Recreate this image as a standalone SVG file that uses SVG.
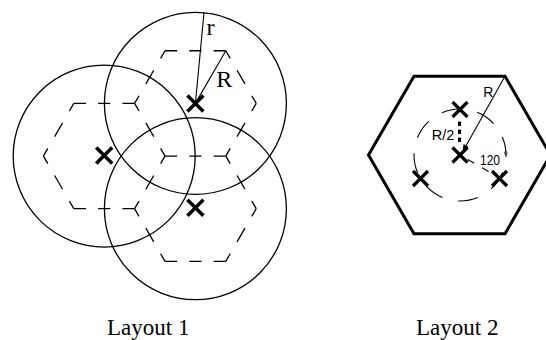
<svg xmlns="http://www.w3.org/2000/svg" width="546" height="340" viewBox="0 0 546 340">
<defs>
<style>
.bg{fill:#fff}
.cell{fill:none;stroke:#000;stroke-width:1.3}
.hh{fill:none;stroke:#000;stroke-width:1.3;stroke-dasharray:12.16 12.16}
.hs{fill:none;stroke:#000;stroke-width:1.3;stroke-dasharray:8.8 13.7 15.8 13.7 8.8 100}
.ln{fill:none;stroke:#000;stroke-width:1.1}
.x{fill:none;stroke:#000;stroke-width:3.5}
.x2{fill:none;stroke:#000;stroke-width:3.2}
.serif{font-family:"Liberation Serif","Times New Roman",serif;fill:#000}
.sans{font-family:"Liberation Sans",Arial,sans-serif;fill:#000}
</style>
<marker id="arr" markerWidth="8" markerHeight="6" refX="7" refY="3" orient="auto" markerUnits="userSpaceOnUse">
<path d="M0,0 L8,3 L0,6 z" fill="#000"/>
</marker>
</defs>
<rect class="bg" x="0" y="0" width="546" height="340"/>

<g id="layout1">
  <g id="hexagons1">
    <path class="hh" d="M165,50.75 L225.8,50.75 M165,156.05 L225.8,156.05 M73.8,103.4 L134.6,103.4 M73.8,208.7 L134.6,208.7 M165,261.35 L225.8,261.35"/>
    <path class="hs" d="M225.8,50.75 L256.2,103.4 M256.2,103.4 L225.8,156.05 M165,50.75 L134.6,103.4 M134.6,103.4 L165,156.05 M73.8,103.4 L43.4,156.05 M43.4,156.05 L73.8,208.7 M165,156.05 L134.6,208.7 M225.8,156.05 L256.2,208.7 M256.2,208.7 L225.8,261.35 M134.6,208.7 L165,261.35"/>
  </g>
  <g id="circles1">
    <circle class="cell" cx="195.4" cy="103.4" r="91"/>
    <circle class="cell" cx="104.2" cy="156.05" r="91"/>
    <circle class="cell" cx="195.4" cy="208.7" r="91"/>
  </g>
  <g id="radii1">
    <line class="ln" x1="195.4" y1="103.4" x2="204" y2="12.8"/>
    <line class="ln" x1="195.4" y1="103.4" x2="225.8" y2="50.75"/>
    <text class="serif" x="206.5" y="35" font-size="24">r</text>
    <text class="serif" x="216.3" y="87" font-size="24">R</text>
  </g>
  <g id="bs1">
    <path class="x" d="M187.4,95.4 L203.4,111.4 M203.4,95.4 L187.4,111.4"/>
    <path class="x" d="M96.2,147.6 L112.2,163.6 M112.2,147.6 L96.2,163.6"/>
    <path class="x" d="M187.4,199.7 L203.4,215.7 M203.4,199.7 L187.4,215.7"/>
  </g>
  <text class="serif" x="107" y="335" font-size="23">Layout 1</text>
</g>

<g id="layout2">
  <polygon id="cellhex2" points="550.5,155 505,76.2 414,76.2 368.5,155 414,233.8 505,233.8" fill="none" stroke="#000" stroke-width="3" stroke-linejoin="miter"/>
  <circle id="ring2" cx="460" cy="155" r="46" fill="none" stroke="#000" stroke-width="1.1" stroke-dasharray="20 16" stroke-dashoffset="18"/>
  <line id="angleline" class="ln" x1="467.8" y1="159.5" x2="488.6" y2="171.5" stroke-dasharray="7.5 9"/>
  <line id="halfR" x1="459.5" y1="121.5" x2="459.5" y2="142" stroke="#000" stroke-width="3" stroke-dasharray="4.5 3.5"/>
  <line id="Rline2" class="ln" x1="505" y1="76.2" x2="462.8" y2="151.5" marker-end="url(#arr)"/>
  <g id="bs2">
    <path class="x2" d="M452.5,102 L467.5,117 M467.5,102 L452.5,117"/>
    <path class="x2" d="M452.5,147.5 L467.5,162.5 M467.5,147.5 L452.5,162.5"/>
    <path class="x2" d="M413,171 L428,186 M428,171 L413,186"/>
    <path class="x2" d="M492,171 L507,186 M507,171 L492,186"/>
  </g>
  <text class="sans" x="483.3" y="97" font-size="14">R</text>
  <text class="sans" x="431.8" y="140.3" font-size="14.5">R/2</text>
  <text class="sans" x="480" y="164.5" font-size="15" textLength="20" lengthAdjust="spacingAndGlyphs">120</text>
  <text class="sans" x="503.5" y="159" font-size="11">°</text>
  <text class="serif" x="416" y="335" font-size="23">Layout 2</text>
</g>
</svg>
